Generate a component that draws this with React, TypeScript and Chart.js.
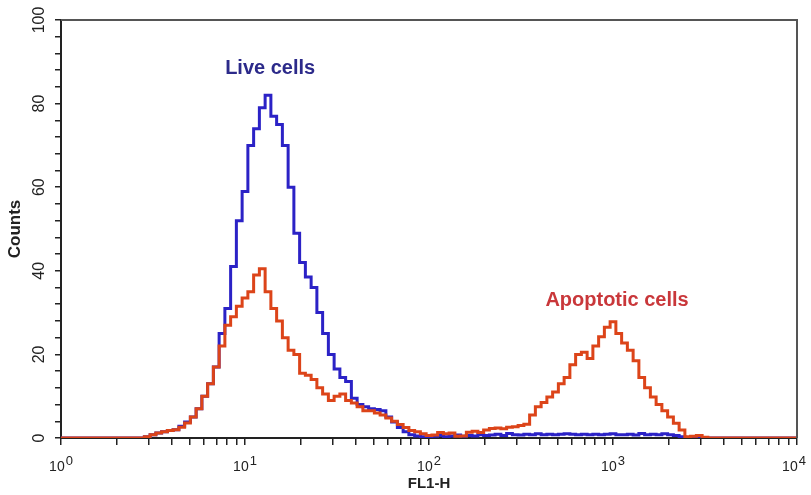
import React, { useEffect, useRef } from 'react';
import { Chart, registerables } from 'chart.js';

Chart.register(...registerables);

// Histogram channels: 256 channels per decade, one point every 8 channels
const CHANNELS_PER_DECADE = 256;
const CHANNEL_STEP = 8;

// Live cells (blue) counts per point, channel 0..1024
const liveCells = [
  0, 0, 0, 0, 0, 0, 0, 0, 0, 0,
  0, 0, 0, 0, 0, 0.3, 0.8, 1.2, 1.5, 1.8,
  2.0, 2.8, 3.8, 5, 7, 10, 13, 17, 25, 31,
  41, 52, 59, 70, 74, 79, 82, 77, 75, 70,
  60, 49, 42, 38.5, 36, 30, 25, 20, 16.5, 14.5,
  13.5, 9.5, 8, 7.5, 7, 6.8, 6.5, 5, 3.8, 2.5,
  1.5, 0.8, 0.5, 0.3, 0.2, 0.4, 0.6, 0.3, 0.5, 0.7,
  0.4, 0.6, 0.5, 0.8, 0.6, 0.7, 0.9, 0.6, 1.1, 0.8,
  0.7, 0.9, 0.8, 1, 0.8, 0.9, 0.8, 0.9, 1.0, 0.9,
  0.8, 0.9, 0.8, 0.9, 0.8, 0.9, 1.0, 0.8, 0.8, 0.9,
  0.7, 1.1, 0.8, 0.9, 0.8, 1.0, 0.8, 0.6, 0.3, 0,
  0, 0, 0, 0, 0, 0, 0, 0, 0, 0,
  0, 0, 0, 0, 0, 0, 0, 0, 0,
];

// Apoptotic cells (red) counts per point
const apoptoticCells = [
  0, 0, 0, 0, 0, 0, 0, 0, 0, 0,
  0, 0, 0, 0, 0, 0.3, 0.8, 1.2, 1.5, 1.8,
  2, 2.6, 3.6, 5, 7, 10, 13, 17, 22, 27,
  29, 31.5, 33.5, 35, 39, 40.5, 35, 31, 28, 24,
  21, 20, 15.5, 15, 14, 12, 10.5, 9, 10, 10.5,
  9, 8.4, 7.5, 6.5, 6.5, 6, 5.5, 4.8, 4, 3.2,
  2.5, 1.8, 1.5, 1, 0.6, 0.7, 1.3, 1.0, 1.2, 0.4,
  0.5, 1.4, 1.6, 1.3, 1.9, 2.3, 2.4, 2.2, 2.6, 2.7,
  3, 3.3, 5.5, 7.5, 8.5, 9.8, 11, 13, 14.5, 17.5,
  20, 20.5, 19, 22, 24.2, 26.5, 27.8, 25, 22.7, 21,
  18.5, 14.5, 12, 9.8, 8, 6.5, 5, 3.5, 1.9, 0.3,
  0.4, 0.6, 0.2, 0, 0, 0, 0, 0, 0, 0,
  0, 0, 0, 0, 0, 0, 0, 0, 0,
];

// Axis ticks
const xDecades = [0, 1, 2, 3, 4];
const xMinorMultipliers = [2, 3, 4, 5, 6, 7, 8, 9];
const yMin = 0;
const yMax = 100;
const yTickStep = 4;
const yLabelStep = 20;

// Text annotations (data coordinates)
const annotationTexts = ['Live cells', 'Apoptotic cells'];
const annotationX = [13.7, 1052];
const annotationY = [88.3, 32.8];

const FONT = "'Liberation Sans', Arial, Helvetica, sans-serif";
const BLUE = '#2b22c6';
const RED = '#dc4419';
const ANNOT_COLORS = ['#2c2a8a', '#c9373a'];
const AXIS = '#222222';

export default function App() {
  const ref = useRef<HTMLCanvasElement>(null);

  useEffect(() => {
    document.body.style.margin = '0';
    const canvas = ref.current;
    if (!canvas) return;

    const toX = (i: number) => Math.pow(10, (i * CHANNEL_STEP) / CHANNELS_PER_DECADE);
    const pts = (arr: number[]) => arr.map((y, i) => ({ x: toX(i), y }));

    const overlay = {
      id: 'overlay',
      afterDraw(chart: any) {
        const { ctx, chartArea, scales } = chart;
        const xs = scales.x;
        const ys = scales.y;
        ctx.save();
        // frame top & right
        ctx.strokeStyle = '#555';
        ctx.lineWidth = 2;
        ctx.beginPath();
        ctx.moveTo(chartArea.left, chartArea.top);
        ctx.lineTo(chartArea.right, chartArea.top);
        ctx.lineTo(chartArea.right, chartArea.bottom);
        ctx.stroke();

        // x tick labels 10^n
        ctx.fillStyle = AXIS;
        ctx.textBaseline = 'alphabetic';
        ctx.textAlign = 'left';
        const baseFont = `14px ${FONT}`;
        const supFont = `13px ${FONT}`;
        xDecades.forEach((d, k) => {
          const px = xs.getPixelForValue(Math.pow(10, d));
          ctx.font = baseFont;
          const w1 = ctx.measureText('10').width;
          ctx.font = supFont;
          const w2 = ctx.measureText(String(d)).width;
          let start = px - (w1 + w2 + 1) / 2;
          if (k === xDecades.length - 1) start -= 3;
          ctx.font = baseFont;
          ctx.fillText('10', start, 471);
          ctx.font = supFont;
          ctx.fillText(String(d), start + w1 + 1, 465);
        });

        // annotations
        ctx.font = `bold 20px ${FONT}`;
        ctx.textAlign = 'center';
        ctx.textBaseline = 'middle';
        annotationTexts.forEach((t, i) => {
          ctx.fillStyle = ANNOT_COLORS[i];
          ctx.fillText(t, xs.getPixelForValue(annotationX[i]), ys.getPixelForValue(annotationY[i]));
        });
        ctx.restore();
      },
    };

    const chart = new Chart(canvas, {
      type: 'line',
      data: {
        datasets: [
          {
            label: 'Apoptotic cells',
            data: pts(apoptoticCells),
            borderColor: RED,
            borderWidth: 3,
            pointRadius: 0,
            stepped: 'middle',
            fill: false,
          },
          {
            label: 'Live cells',
            data: pts(liveCells),
            borderColor: BLUE,
            borderWidth: 3,
            pointRadius: 0,
            stepped: 'middle',
            fill: false,
          },
        ],
      },
      options: {
        animation: false,
        responsive: false,
        layout: { padding: { top: 20, right: 14, left: 0, bottom: 0 } },
        plugins: {
          legend: { display: false },
          tooltip: { enabled: false },
        },
        scales: {
          x: {
            type: 'logarithmic',
            min: 1,
            max: 10000,
            afterBuildTicks: (s: any) => {
              const t: any[] = [];
              xDecades.forEach((d, k) => {
                t.push({ value: Math.pow(10, d), major: true });
                if (k < xDecades.length - 1) {
                  xMinorMultipliers.forEach((m) => t.push({ value: m * Math.pow(10, d), major: false }));
                }
              });
              s.ticks = t;
            },
            afterFit: (s: any) => {
              s.height = 57;
            },
            grid: { drawOnChartArea: false, drawTicks: true, tickLength: 7, color: AXIS, lineWidth: 1.5 },
            border: { display: true, color: AXIS, width: 2 },
            ticks: { autoSkip: false, maxRotation: 0, callback: () => '' },
            title: {
              display: true,
              text: 'FL1-H',
              color: AXIS,
              font: { family: FONT, size: 15, weight: 'bold' },
              padding: { top: 0, bottom: 2 },
            },
          },
          y: {
            min: yMin,
            max: yMax,
            afterFit: (s: any) => {
              s.width = 61;
            },
            grid: { drawOnChartArea: false, drawTicks: true, tickLength: 6, color: AXIS, lineWidth: 1.5 },
            border: { display: true, color: AXIS, width: 2 },
            ticks: {
              stepSize: yTickStep,
              autoSkip: false,
              minRotation: 90,
              maxRotation: 90,
              crossAlign: 'center',
              padding: 2,
              color: AXIS,
              font: { family: FONT, size: 16 },
              callback: (v: any) => (Number(v) % yLabelStep === 0 ? String(v) : ''),
            },
            title: {
              display: true,
              text: 'Counts',
              color: AXIS,
              font: { family: FONT, size: 17, weight: 'bold' },
              padding: { top: 5, bottom: 0 },
            },
          },
        },
      } as any,
      plugins: [overlay],
    });

    return () => chart.destroy();
  }, []);

  return <canvas ref={ref} width={811} height={495} style={{ display: 'block' }} />;
}
